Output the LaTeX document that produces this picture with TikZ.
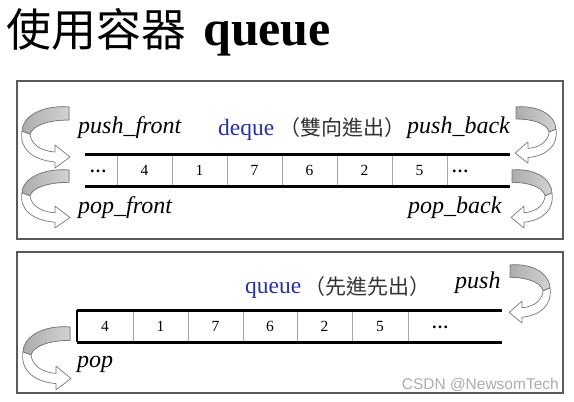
\documentclass[tikz,border=0pt]{standalone}
\usepackage{fontspec}
\setmainfont{Liberation Serif}
\newfontfamily\cjk{Noto Sans CJK TC}
\newfontfamily\wmfont{Liberation Sans}
\definecolor{dqblue}{RGB}{40,50,165}
\definecolor{boxgray}{RGB}{90,90,90}
\definecolor{arrgray}{RGB}{120,120,120}
\begin{document}
\begin{tikzpicture}[x=1pt,y=-1pt,
  boxline/.style={draw=boxgray, line width=1.3pt},
  rowline/.style={draw=black, line width=3pt},
  divline/.style={draw=gray!70, line width=0.8pt},
  numtxt/.style={font=\fontsize{15.5}{17}\selectfont, inner sep=0pt},
  dotstxt/.style={font=\fontsize{17}{18}\selectfont\bfseries, inner sep=0pt},
  oplabel/.style={font=\fontsize{24}{26}\selectfont\itshape, inner sep=0pt, anchor=base west},
  kindlabel/.style={font=\fontsize{23.5}{26}\selectfont, text=dqblue, inner sep=0pt, anchor=base west},
  cjklabel/.style={font=\fontsize{21}{24}\selectfont\cjk, text=black!80, inner sep=0pt, anchor=west},
  arrline/.style={draw=arrgray, line width=0.7pt, line join=round},
  curl/.pic={
    \filldraw[arrline, fill=white] (-47,24) .. controls (-50,42) and (-36,53) .. (-14,55)
      -- (-14,61) -- (1,50) -- (-14,38) -- (-14,45)
      .. controls (-30,44) and (-38,36) .. (-39,27) -- cycle;
    \filldraw[arrline, left color=gray!65, right color=gray!35]
      (0,0) .. controls (-25,-2) and (-46,8) .. (-47,24) -- (-39,27)
      .. controls (-36,18) and (-20,13) .. (0,13) -- cycle;
  }]
\useasboundingbox (0,0) rectangle (574,402);
\fill[white] (0,0) rectangle (574,402);

% title
\node[anchor=west, inner sep=0pt, font=\fontsize{45}{48}\selectfont\cjk] (t1) at (6,29) {使用容器};
\node[anchor=base west, inner sep=0pt, font=\fontsize{50}{52}\selectfont\bfseries] (t2) at (203,45) {queue};

% ---------- deque box ----------
\draw[boxline, fill=white] (17,81) rectangle (563,239);
\foreach \x in {117,172,227,282,337,392,447} \draw[divline] (\x,154) -- (\x,186);
\draw[rowline] (85,154) -- (510,154);
\draw[rowline] (85,186) -- (510,186);
\node[dotstxt] (d0) at (98,171) {…};
\node[numtxt] (d1) at (144.5,170) {4};
\node[numtxt] (d2) at (199.5,170) {1};
\node[numtxt] (d3) at (254.5,170) {7};
\node[numtxt] (d4) at (309.5,170) {6};
\node[numtxt] (d5) at (364.5,170) {2};
\node[numtxt] (d6) at (419.5,170) {5};
\node[dotstxt] (d7) at (460,171) {…};

\node[oplabel] (pf) at (78,133) {push\_front};
\node[kindlabel] (dq) at (218,135) {deque};
\node[cjklabel] (dqc) at (279,128) {（雙向進出）};
\node[oplabel] (pb) at (407,133) {push\_back};
\node[oplabel] (ppf) at (78,213) {pop\_front};
\node[oplabel] (ppb) at (408,213) {pop\_back};

\pic at (69,107) {curl};
\pic[yscale=0.95] at (69,170) {curl};
\pic[xscale=-0.85, yscale=0.92] at (516,107) {curl};
\pic[xscale=-0.85, yscale=0.95] at (512,170) {curl};

% ---------- queue box ----------
\draw[boxline, fill=white] (17,252) rectangle (563,393);
\foreach \x in {133,188,243,297,352,408} \draw[divline] (\x,310) -- (\x,342);
\draw[draw=black, line width=1.5pt] (77,310) -- (77,342);
\draw[rowline] (77,310) -- (502,310);
\draw[rowline] (77,342) -- (502,342);
\node[numtxt] (q1) at (105,326) {4};
\node[numtxt] (q2) at (160.5,326) {1};
\node[numtxt] (q3) at (215.5,326) {7};
\node[numtxt] (q4) at (270,326) {6};
\node[numtxt] (q5) at (324.5,326) {2};
\node[numtxt] (q6) at (380,326) {5};
\node[dotstxt] (q7) at (440,327) {…};

\node[kindlabel] (qq) at (245,293) {queue};
\node[cjklabel] (qqc) at (304,287) {（先進先出）};
\node[oplabel] (qpush) at (455,288) {push};
\node[oplabel] (qpop) at (77,367) {pop};

\pic[yscale=1.03] at (70,327) {curl};
\pic[xscale=-0.85, yscale=0.95] at (510,265) {curl};

% watermark
\node[anchor=east, inner sep=0pt, font=\fontsize{15.5}{17}\selectfont\wmfont, text=gray!65] (wm) at (559,385) {CSDN @NewsomTech};
\end{tikzpicture}
\end{document}
